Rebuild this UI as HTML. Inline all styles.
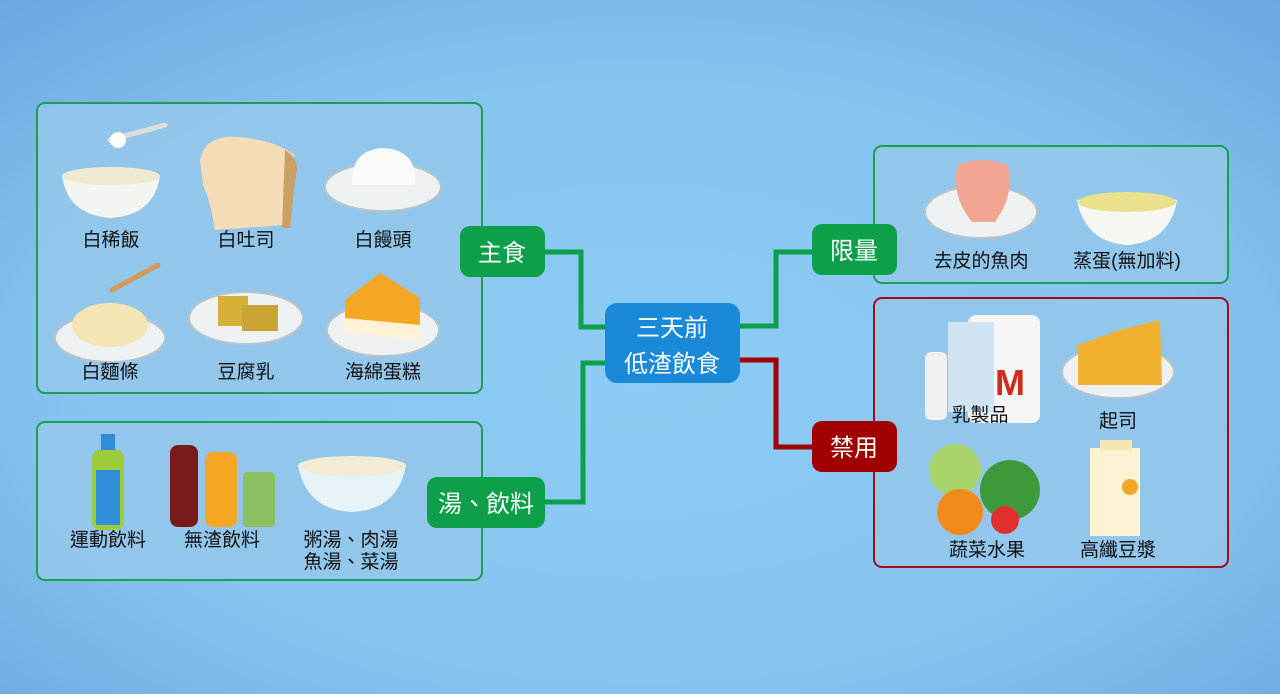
<!DOCTYPE html>
<html><head><meta charset="utf-8"><style>
html,body{margin:0;padding:0;width:1280px;height:694px;overflow:hidden}
svg{display:block}
text{font-family:"Liberation Sans","Noto Sans CJK TC",sans-serif}
</style></head><body>
<svg width="1280" height="694" viewBox="0 0 1280 694" xmlns="http://www.w3.org/2000/svg">
<defs>
<radialGradient id="bg" cx="50%" cy="55%" r="75%">
<stop offset="0" stop-color="#8dcdf4"/><stop offset="0.6" stop-color="#84c3ee"/><stop offset="1" stop-color="#6aa6e0"/>
</radialGradient>
</defs>
<rect width="1280" height="694" fill="url(#bg)"/>
<!-- panels -->
<g fill="#94c6ea" fill-opacity="0.9" stroke-width="2">
<rect x="37" y="103" width="445" height="290" rx="8" stroke="#1aa051"/>
<rect x="37" y="422" width="445" height="158" rx="8" stroke="#1aa051"/>
<rect x="874" y="146" width="354" height="137" rx="8" stroke="#1aa051"/>
<rect x="874" y="298" width="354" height="269" rx="8" stroke="#a00d12"/>
</g>
<!-- connectors -->
<g fill="none" stroke-width="5">
<polyline points="545,252 581,252 581,327 605,327" stroke="#0e9f4a"/>
<polyline points="545,502 583,502 583,363 605,363" stroke="#0e9f4a"/>
<polyline points="740,326 776,326 776,252 812,252" stroke="#0e9f4a"/>
<polyline points="740,360 776,360 776,447 812,447" stroke="#a00000"/>
</g>
<!-- nodes -->
<rect x="605" y="303" width="135" height="80" rx="12" fill="#1a8ad8"/>
<text x="672" y="336" font-size="24" fill="#fff" text-anchor="middle">三天前</text>
<text x="672" y="372" font-size="24" fill="#fff" text-anchor="middle">低渣飲食</text>
<rect x="460" y="226" width="85" height="51" rx="10" fill="#0e9f4a"/>
<text x="502" y="261" font-size="24" fill="#fff" text-anchor="middle">主食</text>
<rect x="427" y="477" width="118" height="51" rx="10" fill="#0e9f4a"/>
<text x="486" y="512" font-size="24" fill="#fff" text-anchor="middle">湯、飲料</text>
<rect x="812" y="224" width="85" height="51" rx="10" fill="#0e9f4a"/>
<text x="854" y="259" font-size="24" fill="#fff" text-anchor="middle">限量</text>
<rect x="812" y="421" width="85" height="51" rx="10" fill="#a00000"/>
<text x="854" y="456" font-size="24" fill="#fff" text-anchor="middle">禁用</text>
<!-- food illustrations (simplified) -->
<!-- porridge -->
<path d="M62,175 Q111,165 160,175 Q155,215 111,218 Q67,215 62,175Z" fill="#f4f4f0"/>
<ellipse cx="111" cy="176" rx="49" ry="9" fill="#eee9cf"/>
<path d="M110,140 L165,125" stroke="#ddd" stroke-width="5" stroke-linecap="round"/>
<circle cx="118" cy="140" r="8" fill="#fff"/>
<!-- toast -->
<path d="M200,160 Q205,135 235,137 Q270,138 295,155 Q282,170 288,195 L285,225 L215,230 Q210,200 203,185Z" fill="#f3dcb6"/>
<path d="M285,150 Q302,160 295,180 L290,228 L282,228Z" fill="#caa065"/>
<!-- mantou plate -->
<ellipse cx="383" cy="187" rx="58" ry="24" fill="#eef1f2" stroke="#b8c4c9" stroke-width="2"/>
<path d="M352,185 Q350,150 383,148 Q418,150 415,185Z" fill="#fafafa"/>
<!-- noodles -->
<ellipse cx="110" cy="338" rx="55" ry="24" fill="#eef1f2" stroke="#b8c4c9" stroke-width="2"/>
<ellipse cx="110" cy="325" rx="38" ry="22" fill="#f3e6b4"/>
<path d="M112,290 L158,265" stroke="#d49a5a" stroke-width="5" stroke-linecap="round"/>
<!-- tofu -->
<ellipse cx="246" cy="318" rx="57" ry="26" fill="#eef1f2" stroke="#b8c4c9" stroke-width="2"/>
<rect x="218" y="296" width="30" height="30" fill="#d6b13a"/>
<rect x="242" y="305" width="36" height="26" fill="#c9a433"/>
<!-- cake -->
<ellipse cx="383" cy="330" rx="56" ry="26" fill="#eef1f2" stroke="#b8c4c9" stroke-width="2"/>
<path d="M345,300 L380,273 L420,298 L420,340 L345,330Z" fill="#f5a623"/>
<path d="M345,318 L420,325 L420,340 L345,332Z" fill="#fff3d6"/>
<!-- sports drink -->
<rect x="92" y="450" width="32" height="80" rx="8" fill="#9ccc3a"/>
<rect x="96" y="470" width="24" height="55" fill="#2e8fd8"/>
<rect x="101" y="434" width="14" height="16" fill="#2e8fd8"/>
<!-- soda -->
<rect x="170" y="445" width="28" height="82" rx="8" fill="#7a1a1a"/>
<rect x="205" y="452" width="32" height="75" rx="8" fill="#f5a623"/>
<rect x="243" y="472" width="32" height="55" rx="4" fill="#8cc063"/>
<!-- soup bowl -->
<path d="M298,465 Q351,455 406,465 Q398,510 352,512 Q306,510 298,465Z" fill="#e8f3f8"/>
<ellipse cx="352" cy="466" rx="54" ry="10" fill="#f1ecd3"/>
<!-- fish -->
<ellipse cx="981" cy="212" rx="56" ry="26" fill="#eef1f2" stroke="#b8c4c9" stroke-width="2"/>
<path d="M958,165 Q981,155 1008,165 Q1015,195 995,222 L972,222 Q950,195 958,165Z" fill="#f2a592"/>
<!-- egg bowl -->
<path d="M1077,200 Q1127,190 1177,200 Q1170,242 1127,245 Q1085,242 1077,200Z" fill="#f7f7f2"/>
<ellipse cx="1127" cy="202" rx="49" ry="10" fill="#e9e18c"/>
<!-- dairy -->
<rect x="968" y="315" width="72" height="108" rx="8" fill="#f5f5f5"/>
<rect x="948" y="322" width="46" height="90" fill="#cfe3f3"/>
<rect x="925" y="352" width="22" height="68" rx="6" fill="#f0f0f0"/>
<text x="1010" y="395" font-size="36" font-weight="bold" fill="#d12b1e" text-anchor="middle">M</text>
<!-- cheese -->
<ellipse cx="1118" cy="372" rx="56" ry="26" fill="#eef1f2" stroke="#b8c4c9" stroke-width="2"/>
<path d="M1078,345 L1120,330 L1160,320 L1162,385 L1078,385Z" fill="#f0b030"/>
<!-- veg -->
<circle cx="955" cy="470" r="26" fill="#a8d36a"/>
<circle cx="1010" cy="490" r="30" fill="#3c9a3a"/>
<circle cx="960" cy="512" r="23" fill="#f28b1a"/>
<circle cx="1005" cy="520" r="14" fill="#e23030"/>
<!-- soy milk -->
<rect x="1090" y="448" width="50" height="88" fill="#fbf3d3"/>
<rect x="1100" y="440" width="32" height="10" fill="#f5e7b0"/>
<circle cx="1130" cy="487" r="8" fill="#f5a623"/>
<!-- labels -->
<g font-size="19" fill="#111" text-anchor="middle">
<text x="111" y="246">白稀飯</text>
<text x="246" y="246">白吐司</text>
<text x="383" y="246">白饅頭</text>
<text x="110" y="378">白麵條</text>
<text x="246" y="378">豆腐乳</text>
<text x="383" y="378">海綿蛋糕</text>
<text x="108" y="546">運動飲料</text>
<text x="222" y="546">無渣飲料</text>
<text x="351" y="546">粥湯、肉湯</text>
<text x="351" y="568">魚湯、菜湯</text>
<text x="981" y="267">去皮的魚肉</text>
<text x="1127" y="267">蒸蛋(無加料)</text>
<text x="980" y="421">乳製品</text>
<text x="1118" y="427">起司</text>
<text x="987" y="556">蔬菜水果</text>
<text x="1118" y="556">高纖豆漿</text>
</g>
</svg>
</body></html>
